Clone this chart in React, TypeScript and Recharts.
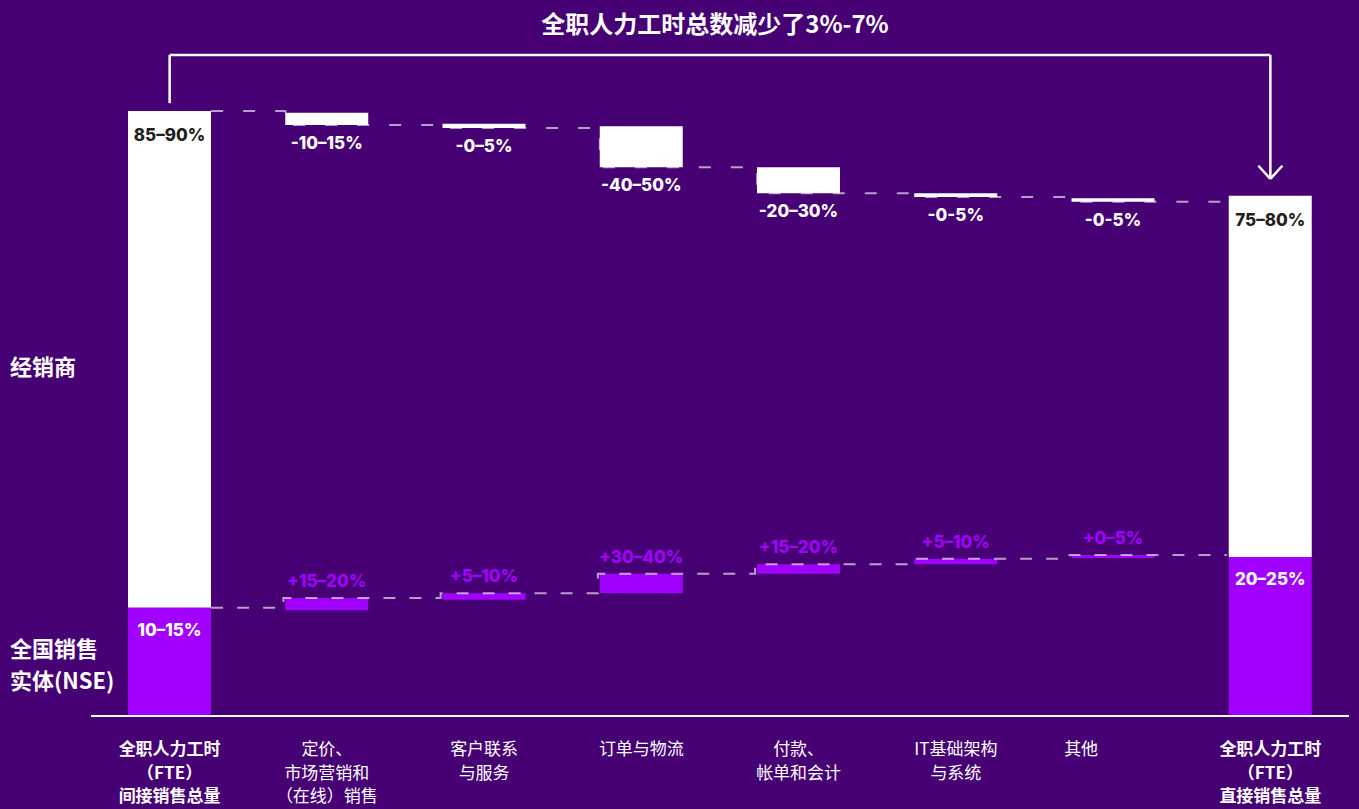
import React from 'react';
import { ComposedChart, Bar, Line, XAxis, YAxis, LabelList, ReferenceLine } from 'recharts';

// ---------- data ----------
const categories = [
  '全职人力工时（FTE）间接销售总量',
  '定价、市场营销和（在线）销售',
  '客户联系与服务',
  '订单与物流',
  '付款、帐单和会计',
  'IT基础架构与系统',
  '其他',
  '全职人力工时（FTE）直接销售总量',
];
const tickLines = [
  ['全职人力工时', '（FTE）', '间接销售总量'],
  ['定价、', '市场营销和', '（在线）销售'],
  ['客户联系', '与服务'],
  ['订单与物流'],
  ['付款、', '帐单和会计'],
  ['IT基础架构', '与系统'],
  ['其他'],
  ['全职人力工时', '（FTE）', '直接销售总量'],
];
// distributor (white) floating ranges
const whiteLow = [17.9, 97.7, 97.2, 90.7, 86.4, 85.8, 85.0, 26.3];
const whiteHigh = [100, 99.7, 97.9, 97.5, 90.7, 86.4, 85.6, 86.0];
// NSE (purple) floating ranges
const purpleLow = [0, 17.5, 19.2, 20.3, 23.5, 25.1, 26.1, 0];
const purpleHigh = [17.9, 19.5, 20.3, 23.5, 25.1, 26.0, 26.6, 26.3];
const whiteLabels = ['85–90%', '-10–15%', '-0–5%', '-40–50%', '-20–30%', '-0-5%', '-0-5%', '75–80%'];
const purpleLabels = ['10–15%', '+15–20%', '+5–10%', '+30–40%', '+15–20%', '+5–10%', '+0–5%', '20–25%'];
const titleText = '全职人力工时总数减少了3%-7%';
const rowLabelTop = ['经销商'];
const rowLabelBottom = ['全国销售', '实体(NSE)'];

// ---------- layout / style ----------
const W = 1359;
const H = 809;
const BG = '#460073';
const PURPLE = '#A100FF';
const DARK = '#231F20';
const DASH = 'rgba(255,255,255,0.62)';
const FONT = "Inter, 'Noto Sans CJK SC', sans-serif";
const CJK = "'Noto Sans CJK SC', Inter, sans-serif";
const M = { top: 40, right: 10, left: 91, bottom: 3 };
const XAXIS_H = 90;
const PLOT_W = W - M.left - M.right;
const N = categories.length;
const BAND = PLOT_W / N;
const BAR_SIZE = 83;
const HALF = BAR_SIZE / 2 / BAND;
const Y_MAX = 111.74;
const TICK_DX = [0, 0, 0, 0, 0, 0, -32, 0];

const data = categories.map((name, i) => ({
  name,
  white: [whiteLow[i], whiteHigh[i]],
  purple: [purpleLow[i], purpleHigh[i]],
  wl: whiteLabels[i],
  pl: purpleLabels[i],
}));

// connector step lines (derived from the values above)
const topConnector: { x: number; y: number }[] = [];
{
  let prev = whiteHigh[0];
  topConnector.push({ x: 0.5 + HALF, y: prev });
  for (let i = 1; i < N; i++) {
    topConnector.push({ x: i + 0.5 - HALF, y: prev });
    if (i < N - 1) {
      topConnector.push({ x: i + 0.5 - HALF, y: whiteLow[i] });
      prev = whiteLow[i];
    }
  }
}
const bottomConnector: { x: number; y: number }[] = [];
{
  const g = 2 / BAND;
  let prev = purpleHigh[0];
  bottomConnector.push({ x: 0.5 + HALF, y: prev });
  for (let i = 1; i < N; i++) {
    bottomConnector.push({ x: i + 0.5 - HALF - g, y: prev });
    if (i < N - 1) {
      bottomConnector.push({ x: i + 0.5 - HALF - g, y: purpleHigh[i] });
      prev = purpleHigh[i];
    }
  }
}

// bracket annotation
const BR_TOP = 109.26;
const BR_LEFT_END = whiteHigh[0] + 1.3;
const BR_TIP = whiteHigh[N - 1] + 2.8;
const ARW_DX = 12 / BAND;
const ARW_DY = 2.15;

const CategoryTick = (props: any) => {
  const { x, y, payload } = props;
  const i = categories.indexOf(payload.value);
  const lines = tickLines[i] || [];
  const bold = i === 0 || i === N - 1;
  const tx = x + (TICK_DX[i] || 0);
  return (
    <g>
      <text x={tx} y={y} textAnchor="middle" fill="#fff" fontFamily={CJK} fontSize={17} fontWeight={bold ? 700 : 400}>
        {lines.map((l, k) => (
          <tspan key={k} x={tx} dy={k === 0 ? 39 : 23.5}>
            {l}
          </tspan>
        ))}
      </text>
    </g>
  );
};

const whiteLabel = (p: any) => {
  const { x, y, width, height, value, index } = p;
  const top = Math.min(y, y + height);
  const bottom = Math.max(y, y + height);
  const inside = index === 0 || index === N - 1;
  return (
    <text
      x={x + width / 2}
      y={inside ? top + 24 : bottom + 18}
      textAnchor="middle"
      dominantBaseline="central"
      fill={inside ? DARK : '#fff'}
      fontFamily={FONT}
      fontWeight={800}
      fontSize={17}
    >
      {value}
    </text>
  );
};

const purpleLabel = (p: any) => {
  const { x, y, width, height, value, index } = p;
  const top = Math.min(y, y + height);
  const inside = index === 0 || index === N - 1;
  return (
    <text
      x={x + width / 2}
      y={inside ? top + 22 : top - 17}
      textAnchor="middle"
      dominantBaseline="central"
      fill={inside ? '#fff' : PURPLE}
      fontFamily={FONT}
      fontWeight={800}
      fontSize={17}
    >
      {value}
    </text>
  );
};

const sideStyle: React.CSSProperties = {
  position: 'absolute',
  left: 10,
  color: '#fff',
  fontFamily: CJK,
  fontWeight: 700,
  fontSize: 22,
  lineHeight: '32px',
  whiteSpace: 'nowrap',
};

export default function App() {
  return (
    <div style={{ position: 'absolute', left: 0, top: 0, width: W, height: H, background: BG, overflow: 'hidden' }}>
      <div
        style={{
          position: 'absolute',
          left: 715,
          top: 22,
          transform: 'translate(-50%, -50%)',
          color: '#fff',
          fontFamily: CJK,
          fontWeight: 700,
          fontSize: 24,
          whiteSpace: 'nowrap',
        }}
      >
        {titleText}
      </div>
      <div style={{ ...sideStyle, top: 349 }}>{rowLabelTop[0]}</div>
      <div style={{ ...sideStyle, top: 631 }}>
        {rowLabelBottom[0]}
        <br />
        {rowLabelBottom[1]}
      </div>
      <div style={{ position: 'absolute', left: 0, top: 0 }}>
        <ComposedChart width={W} height={H} data={data} margin={M}>
          <XAxis
            xAxisId="cat"
            dataKey="name"
            height={XAXIS_H}
            interval={0}
            tickLine={false}
            tickSize={0}
            tickMargin={0}
            axisLine={{ stroke: '#fff', strokeWidth: 2 }}
            tick={<CategoryTick />}
          />
          <XAxis xAxisId="cat2" dataKey="name" hide />
          <XAxis xAxisId="num" type="number" dataKey="x" domain={[0, N]} allowDataOverflow hide />
          <YAxis type="number" domain={[0, Y_MAX]} allowDataOverflow hide />
          <Line
            xAxisId="num"
            data={topConnector}
            dataKey="y"
            type="linear"
            stroke={DASH}
            strokeWidth={2}
            strokeDasharray="12 20"
            dot={false}
            activeDot={false}
            isAnimationActive={false}
          />
          <Line
            xAxisId="num"
            data={bottomConnector}
            dataKey="y"
            type="linear"
            stroke={DASH}
            strokeWidth={2}
            strokeDasharray="12 14"
            dot={false}
            activeDot={false}
            isAnimationActive={false}
          />
          <Bar xAxisId="cat" dataKey="white" fill="#ffffff" barSize={BAR_SIZE} isAnimationActive={false}>
            <LabelList dataKey="wl" content={whiteLabel} />
          </Bar>
          <Bar xAxisId="cat2" dataKey="purple" fill={PURPLE} barSize={BAR_SIZE} isAnimationActive={false}>
            <LabelList dataKey="pl" content={purpleLabel} />
          </Bar>
          <ReferenceLine
            xAxisId="num"
            segment={[{ x: 0.5, y: BR_LEFT_END }, { x: 0.5, y: BR_TOP }]}
            stroke="#fff"
            strokeWidth={2.5}
          />
          <ReferenceLine
            xAxisId="num"
            segment={[{ x: 0.5, y: BR_TOP }, { x: N - 0.5, y: BR_TOP }]}
            stroke="#fff"
            strokeWidth={2.5}
          />
          <ReferenceLine
            xAxisId="num"
            segment={[{ x: N - 0.5, y: BR_TOP }, { x: N - 0.5, y: BR_TIP }]}
            stroke="#fff"
            strokeWidth={2.5}
          />
          <ReferenceLine
            xAxisId="num"
            segment={[{ x: N - 0.5 - ARW_DX, y: BR_TIP + ARW_DY }, { x: N - 0.5, y: BR_TIP }]}
            stroke="#fff"
            strokeWidth={2.5}
          />
          <ReferenceLine
            xAxisId="num"
            segment={[{ x: N - 0.5 + ARW_DX, y: BR_TIP + ARW_DY }, { x: N - 0.5, y: BR_TIP }]}
            stroke="#fff"
            strokeWidth={2.5}
          />
        </ComposedChart>
      </div>
    </div>
  );
}
